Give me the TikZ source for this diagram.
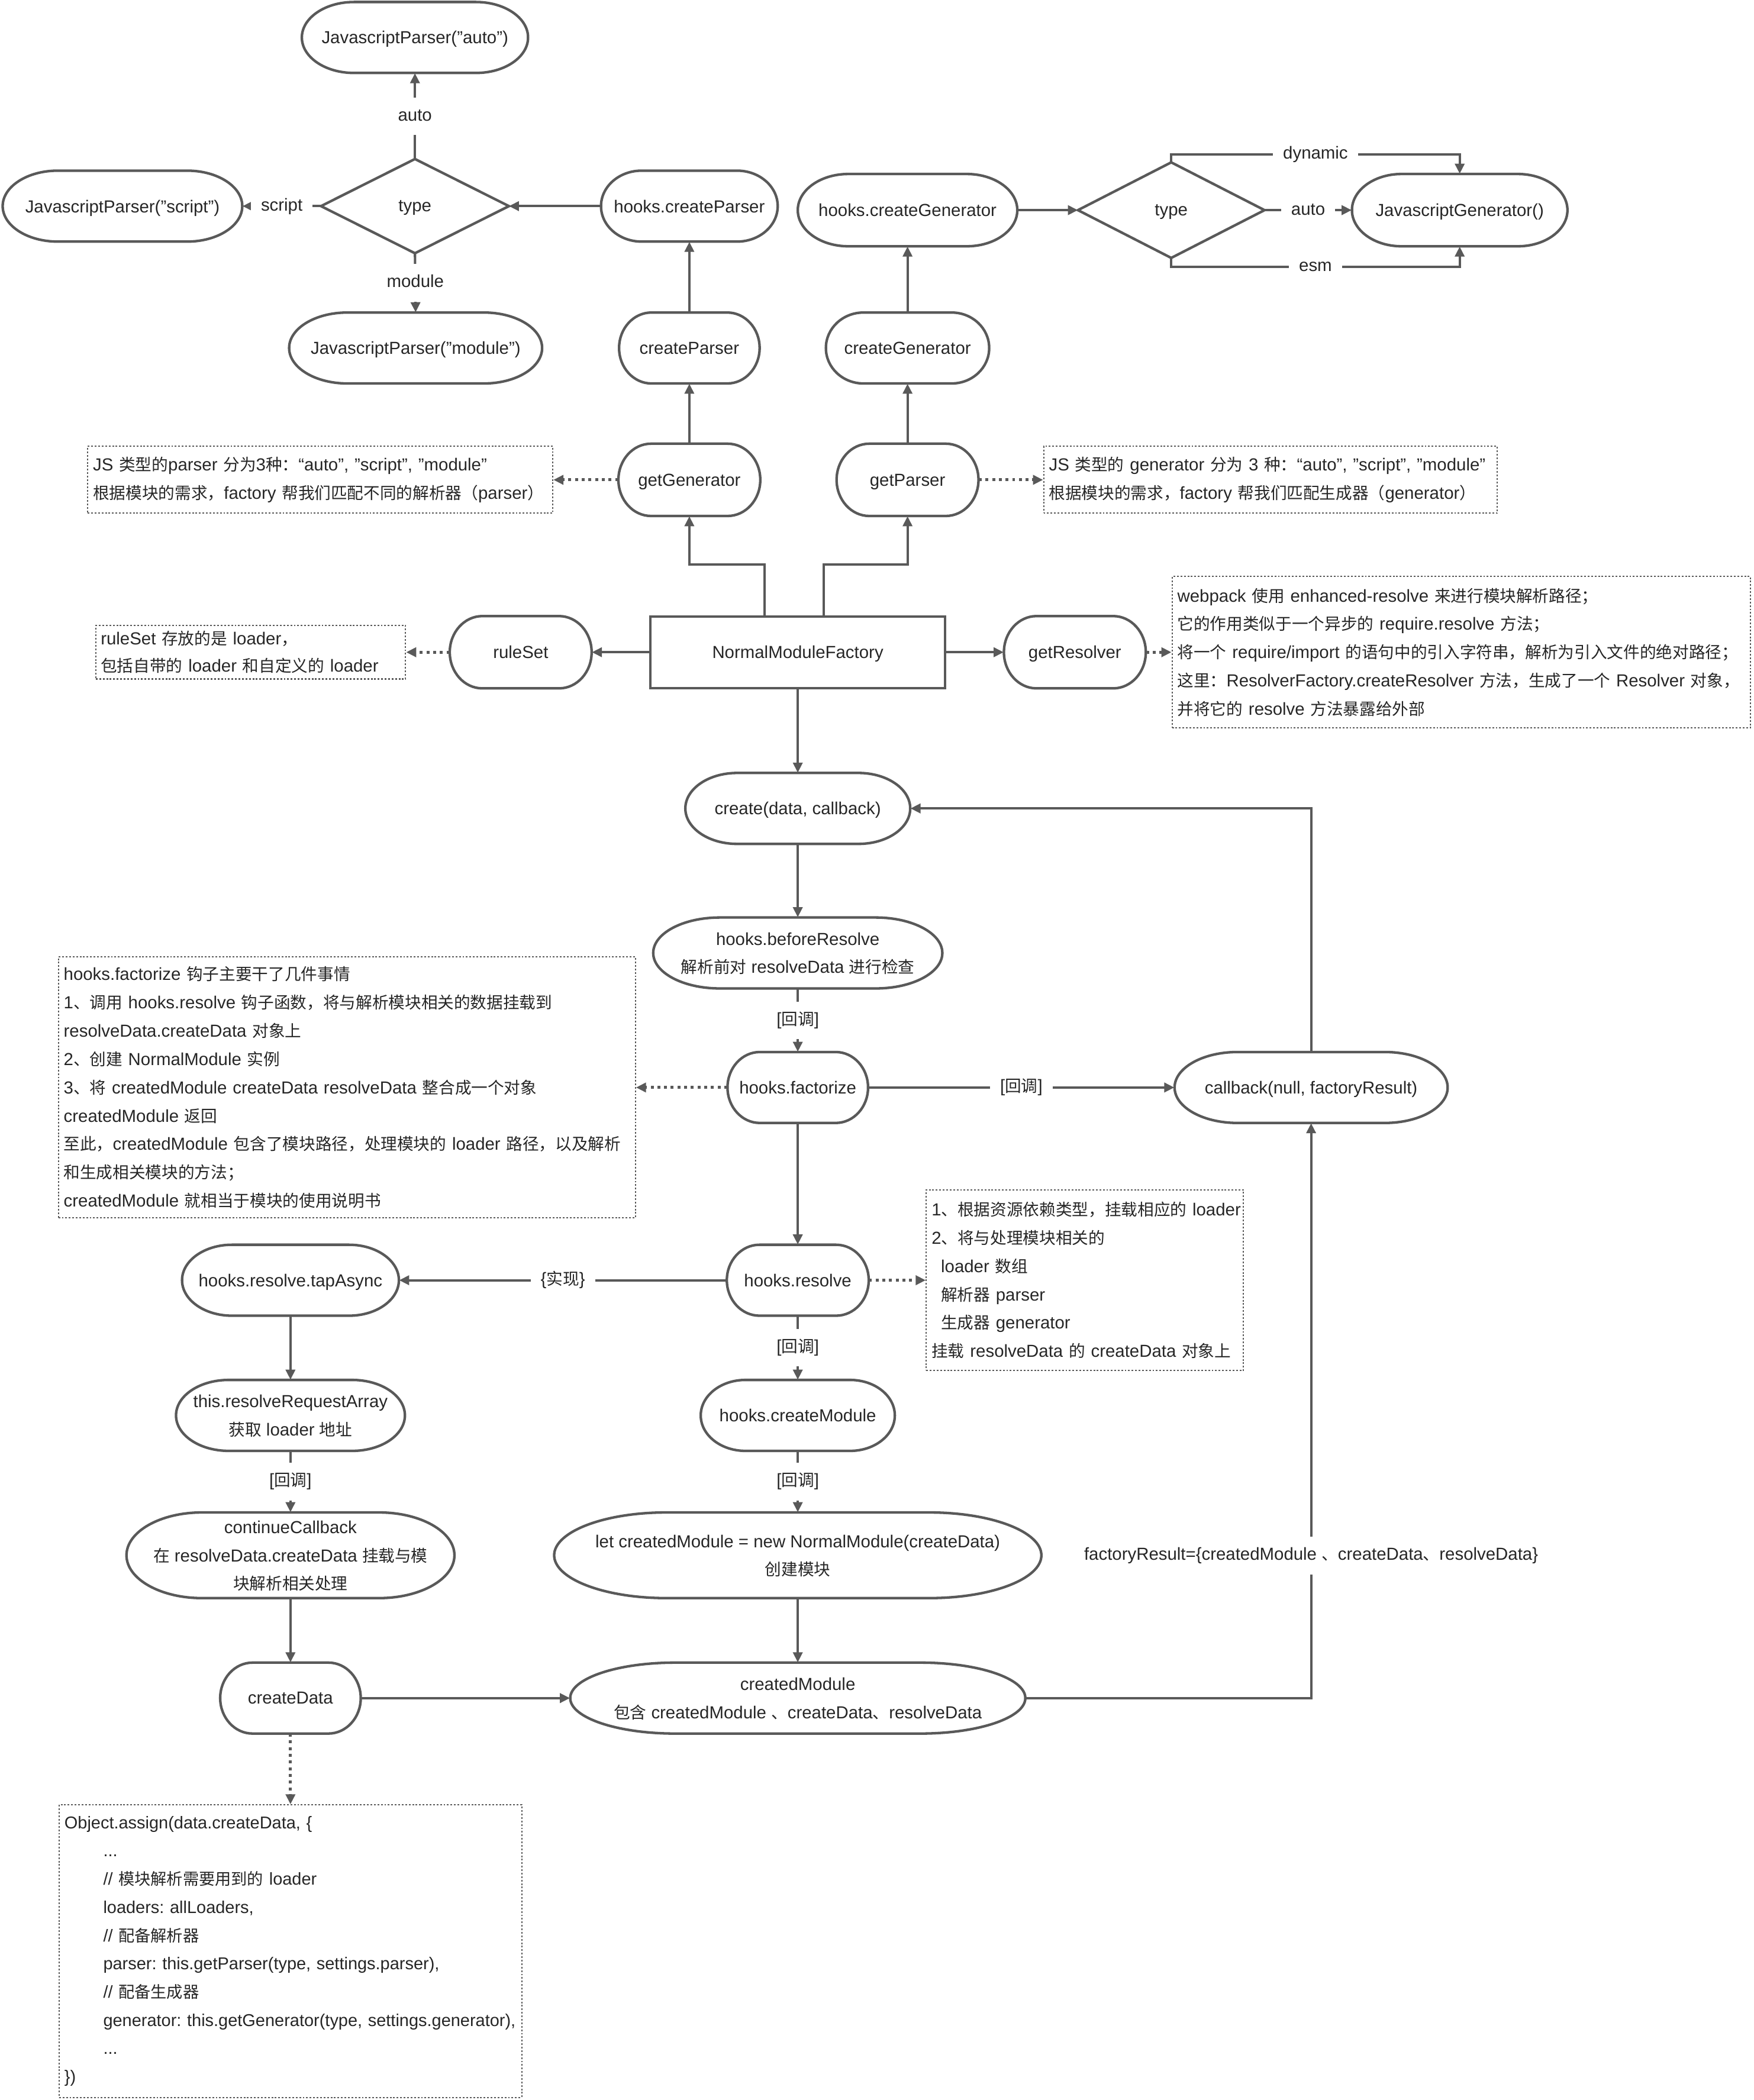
\documentclass[tikz,border=0pt]{standalone}
\usepackage{fontspec}
\setmainfont{Liberation Sans}
\newfontfamily\cjkfont{Noto Sans CJK SC}[Scale=0.94]
\usetikzlibrary{arrows.meta}
\XeTeXinterchartokenstate=1
\newXeTeXintercharclass\CJKcls
\makeatletter
\def\setcls#1#2{\count@=#1\relax\loop\XeTeXcharclass\count@=\CJKcls\ifnum\count@<#2\relax\advance\count@\@ne\repeat}
\setcls{"4E00}{"9FFF}
\setcls{"3000}{"303F}
\setcls{"FF01}{"FF5E}
\makeatother
\XeTeXinterchartoks 0 \CJKcls = {\begingroup\cjkfont}
\XeTeXinterchartoks 4095 \CJKcls = {\begingroup\cjkfont}
\XeTeXinterchartoks \CJKcls 0 = {\endgroup}
\XeTeXinterchartoks \CJKcls 4095 = {\endgroup}
\frenchspacing
\definecolor{lc}{HTML}{595959}
\definecolor{tc}{HTML}{262626}
\newcommand\nfont{\fontsize{13}{21}\selectfont\frenchspacing}
\newcommand\nfontb{\fontsize{13}{21.15}\selectfont\frenchspacing}
\newcommand\nfontc{\fontsize{12.8}{21.1}\selectfont\frenchspacing}
\newcommand\mkstad[6]{%
  \node[sn, minimum width=#4pt, minimum height=#5pt] (#1) at (#2,#3) {#6};
  \draw[nb] ({#2-#4*0.27},{#3-#5*0.5}) -- ({#2+#4*0.27},{#3-#5*0.5})
    arc[start angle=90,end angle=-90,x radius={#4*0.23pt},y radius={#5*0.5pt}]
    -- ({#2-#4*0.27},{#3+#5*0.5})
    arc[start angle=270,end angle=90,x radius={#4*0.23pt},y radius={#5*0.5pt}] -- cycle;}
\begin{document}
\begin{tikzpicture}[x=1pt,y=-1pt,
  lk/.style={draw=lc, line width=1.8pt},
  conn/.style={lk, -{Triangle[length=7.5pt,width=7pt]}},
  dconn/.style={draw=lc, line width=2.2pt, dash pattern=on 2.2pt off 2.8pt, -{Triangle[length=7.5pt,width=7pt]}},
  nb/.style={draw=lc, line width=1.9pt},
  sn/.style={inner sep=0pt, align=center, text=tc, font=\nfont, text depth=0pt},
  lbl/.style={fill=white, inner xsep=7.5pt, inner ysep=7.5pt, text height=10pt, text depth=3pt, text=tc, font=\nfont},
  note/.style={draw=lc, line width=0.9pt, dash pattern=on 1.3pt off 1.3pt, inner xsep=4pt, inner ysep=0pt, align=left, text=tc, font=\nfontb},
]
\fill[white] (0,0) rectangle (1310,1569);
\useasboundingbox (0,0) rectangle (1310,1569);

% ---------- top left: parser ----------
\mkstad{auto}{310}{28}{169}{53}{JavascriptParser("auto")}
\mkstad{script}{91.5}{154}{179}{53}{JavascriptParser("script")}
\mkstad{hcp}{515}{154}{132}{53}{hooks.createParser}
\mkstad{module}{310.5}{260}{189}{53}{JavascriptParser("module")}
\mkstad{cp}{515}{260}{105}{53}{createParser}
\node[sn, minimum width=140pt, minimum height=70pt] (t1) at (310,154) {type};
\draw[nb] (t1.north) -- (t1.east) -- (t1.south) -- (t1.west) -- cycle;

% ---------- top right: generator ----------
\mkstad{hcg}{678}{157}{164}{54}{hooks.createGenerator}
\mkstad{jsg}{1090.5}{157}{161}{54}{JavascriptGenerator()}
\mkstad{cg}{678}{260}{122}{53}{createGenerator}
\node[sn, minimum width=139pt, minimum height=71pt] (t2) at (875,157) {type};
\draw[nb] (t2.north) -- (t2.east) -- (t2.south) -- (t2.west) -- cycle;

% ---------- factory level ----------
\mkstad{getgen}{515}{358.5}{106}{54}{getGenerator}
\mkstad{getpar}{678}{358.5}{106}{54}{getParser}
\node[draw=lc, line width=1.9pt, inner sep=0pt, text=tc, font=\nfont, text depth=0pt, minimum width=220pt, minimum height=53.5pt] (nmf) at (596,487.3) {NormalModuleFactory};
\mkstad{ruleset}{389}{487.3}{106}{54}{ruleSet}
\mkstad{getres}{803}{487.3}{106}{54}{getResolver}

% ---------- main flow ----------
\mkstad{create}{596}{604}{168}{53}{create(data, callback)}
\mkstad{before}{596}{712}{216}{53}{hooks.beforeResolve\\解析前对 resolveData 进行检查}
\mkstad{fact}{596}{812.5}{105}{53}{hooks.factorize}
\mkstad{cb}{979.5}{812.5}{204}{53}{callback(null, factoryResult)}
\mkstad{res}{596}{956.5}{106}{53}{hooks.resolve}
\mkstad{tap}{217}{956.5}{162}{53}{hooks.resolve.tapAsync}
\mkstad{rra}{217}{1057.5}{171}{53}{this.resolveRequestArray\\获取 loader 地址}
\mkstad{hcm}{596}{1057.5}{145}{53}{hooks.createModule}
\mkstad{cc}{217}{1162}{245}{64}{continueCallback\\在 resolveData.createData 挂载与模\\块解析相关处理}
\mkstad{lcm}{596}{1162}{364}{64}{let createdModule = new NormalModule(createData)\\创建模块}
\mkstad{cd}{217}{1268.7}{105}{53}{createData}
\mkstad{cm}{596}{1268.7}{340}{53}{createdModule\\包含 createdModule 、createData、resolveData}

% ---------- notes ----------
\node[note, minimum width=347.5pt, minimum height=50pt, text width=339.5pt] (n1) at (239.25,358.5) {\mbox{JS 类型的parser 分为3种：“auto”, "script", "module"}\\\mbox{根据模块的需求，factory 帮我们匹配不同的解析器（parser）}};
\node[note, minimum width=339pt, minimum height=50pt, text width=331pt] (n2) at (949.15,358.5) {\mbox{JS 类型的 generator 分为 3 种：“auto”, "script", "module"}\\\mbox{根据模块的需求，factory 帮我们匹配生成器（generator）}};
\node[note, minimum width=231.4pt, minimum height=40pt, text width=224pt, inner xsep=3.7pt, font=\fontsize{13}{20.5}\selectfont\frenchspacing] (n3) at (187.3,487.3) {\mbox{ruleSet 存放的是 loader，}\\\mbox{包括自带的 loader 和自定义的 loader}};
\node[note, minimum width=432.2pt, minimum height=113pt, text width=424.2pt] (n4) at (1091.7,487.3) {\mbox{webpack 使用 enhanced-resolve 来进行模块解析路径；}\\\mbox{它的作用类似于一个异步的 require.resolve 方法；}\\\mbox{将一个 require/import 的语句中的引入字符串，解析为引入文件的绝对路径；}\\\mbox{这里：ResolverFactory.createResolver 方法，生成了一个 Resolver 对象，}\\\mbox{并将它的 resolve 方法暴露给外部}};
\node[note, minimum width=431.1pt, minimum height=195pt, text width=423.1pt] (n5) at (259.15,812.5) {\mbox{hooks.factorize 钩子主要干了几件事情}\\\mbox{1、调用 hooks.resolve 钩子函数，将与解析模块相关的数据挂载到}\\\mbox{resolveData.createData 对象上}\\\mbox{2、创建 NormalModule 实例}\\\mbox{3、将 createdModule createData resolveData 整合成一个对象}\\\mbox{createdModule 返回}\\\mbox{至此，createdModule 包含了模块路径，处理模块的 loader 路径，以及解析}\\\mbox{和生成相关模块的方法；}\\\mbox{createdModule 就相当于模块的使用说明书}};
\node[note, minimum width=237pt, minimum height=135pt, text width=229pt] (n6) at (810.5,956.5) {\mbox{1、根据资源依赖类型，挂载相应的 loader}\\\mbox{2、将与处理模块相关的}\\\mbox{\hspace*{7pt}loader 数组}\\\mbox{\hspace*{7pt}解析器 parser}\\\mbox{\hspace*{7pt}生成器 generator}\\\mbox{挂载 resolveData 的 createData 对象上}};
\node[note, minimum width=345.7pt, minimum height=218.5pt, text width=337.7pt, font=\nfontc] (n7) at (217,1457.75) {\mbox{Object.assign(data.createData, \{}\\\mbox{\hspace*{29pt}...}\\\mbox{\hspace*{29pt}// 模块解析需要用到的 loader}\\\mbox{\hspace*{29pt}loaders: allLoaders,}\\\mbox{\hspace*{29pt}// 配备解析器}\\\mbox{\hspace*{29pt}parser: this.getParser(type, settings.parser),}\\\mbox{\hspace*{29pt}// 配备生成器}\\\mbox{\hspace*{29pt}generator: this.getGenerator(type, settings.generator),}\\\mbox{\hspace*{29pt}...}\\\mbox{\})}};

% ---------- connectors: parser ----------
\draw[conn] (t1.north) -- node[lbl]{auto} (auto.south);
\draw[conn] (t1.west) -- node[lbl]{script} (script.east);
\draw[conn] (t1.south) -- node[lbl]{module} (module.north);
\draw[conn] (hcp.west) -- (t1.east);
\draw[conn] (cp.north) -- (hcp.south);
\draw[conn] (getgen.north) -- (cp.south);

% ---------- connectors: generator ----------
\draw[conn] (getpar.north) -- (cg.south);
\draw[conn] (cg.north) -- (hcg.south);
\draw[conn] (hcg.east) -- (t2.west);
\draw[conn] (t2.north) -- ++(0,-6) -| node[lbl, pos=0.25]{dynamic} (jsg.north);
\draw[conn] (t2.east) -- node[lbl]{auto} (jsg.west);
\draw[conn] (t2.south) -- ++(0,6.5) -| node[lbl, pos=0.25]{esm} (jsg.south);

% ---------- connectors: factory ----------
\draw[conn] ([xshift=-25pt]nmf.north) -- ++(0,-38) -| (getgen.south);
\draw[conn] ([xshift=19.5pt]nmf.north) -- ++(0,-38) -| (getpar.south);
\draw[dconn] (getgen.west) -- (n1.east);
\draw[dconn] (getpar.east) -- (n2.west);
\draw[conn] (nmf.west) -- (ruleset.east);
\draw[dconn] (ruleset.west) -- (n3.east);
\draw[conn] (nmf.east) -- (getres.west);
\draw[dconn] (getres.east) -- (n4.west);

% ---------- connectors: main flow ----------
\draw[conn] (nmf.south) -- (create.north);
\draw[conn] (create.south) -- (before.north);
\draw[conn] (before.south) -- node[lbl]{[回调]} (fact.north);
\draw[conn] (fact.east) -- node[lbl]{[回调]} (cb.west);
\draw[conn] (cb.north) |- (create.east);
\draw[dconn] (fact.west) -- (n5.east);
\draw[conn] (fact.south) -- (res.north);
\draw[conn] (res.west) -- node[lbl]{\{实现\}} (tap.east);
\draw[dconn] (res.east) -- (n6.west);
\draw[conn] (tap.south) -- (rra.north);
\draw[conn] (res.south) -- node[lbl]{[回调]} (hcm.north);
\draw[conn] (rra.south) -- node[lbl]{[回调]} (cc.north);
\draw[conn] (hcm.south) -- node[lbl]{[回调]} (lcm.north);
\draw[conn] (cc.south) -- (cd.north);
\draw[conn] (lcm.south) -- (cm.north);
\draw[conn] (cd.east) -- (cm.west);
\draw[conn] (cm.east) -| node[lbl, pos=0.624]{factoryResult=\{createdModule 、createData、resolveData\}} (cb.south);
\draw[dconn] (cd.south) -- (n7.north);
\end{tikzpicture}
\end{document}
